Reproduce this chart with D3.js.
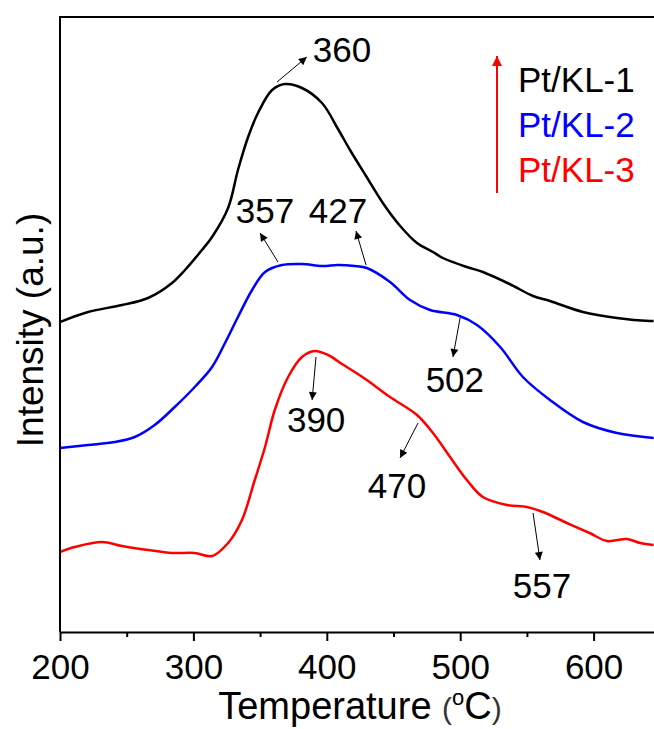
<!DOCTYPE html>
<html>
<head>
<meta charset="utf-8">
<script src="https://cdn.jsdelivr.net/npm/d3@7"></script>
<style>
  body { margin: 0; background: #fff; }
  text { font-family: "Liberation Sans", Arial, sans-serif; }
</style>
</head>
<body>
<div id="chart"></div>
<script>
// temperature (°C) and intensity (a.u.)
const temp1 = [200, 221, 246.5, 266, 284, 293.7, 306.4, 314, 326, 333.4, 341, 348.4, 359, 368.7, 381.4, 396.4, 408.4, 417.4, 429.4, 442, 455, 467.6, 479.6, 487, 505, 517, 537, 554.6, 567.3, 592, 617.5, 642, 645];
const ptkl1 = [310, 320, 327, 334, 349, 362, 382, 395, 424, 462, 495, 519, 542, 548, 544, 529, 503, 482, 456, 429, 406, 389, 380, 374, 365, 360, 348, 336, 331, 320, 314, 311, 311];

const temp2 = [200, 221, 241, 256, 271, 286, 301, 314, 323.7, 333.4, 344, 353.7, 366.4, 381.4, 396.4, 408.4, 421, 430, 447.4, 462.4, 477.4, 497.6, 512.6, 530, 547, 567.3, 592, 617.5, 645];
const ptkl2 = [184, 187, 190, 195, 207, 225, 245, 265, 289, 315, 342, 360, 367, 368, 366, 367, 366, 364, 350, 332, 322, 317, 307, 285, 255, 232, 210, 199, 194];

const temp3 = [200, 211, 231.5, 246.5, 266, 284, 301, 314, 326, 336.4, 346, 353.7, 361, 371, 381.4, 391, 401, 411.4, 421, 430, 447.4, 467.6, 479.6, 492.4, 505, 517, 535, 550, 562, 580, 597, 610, 625, 635, 645];
const ptkl3 = [80, 85, 90, 86, 82, 79, 79, 76, 89, 112, 152, 185, 222, 255, 275, 281, 277, 268, 260, 252, 235, 217, 199, 175, 152, 135, 127, 125, 120, 109, 99, 91, 93, 89, 87];

const seriesNames = ["Pt/KL-1", "Pt/KL-2", "Pt/KL-3"];
const seriesColors = ["#000000", "#0000ff", "#ff0000"];

// peak labels: text, arrow from (t0,v0) to (t1,v1), text anchor at (tt,vt)
const peakLabels = ["360", "357", "427", "502", "390", "470", "557"];
const arrowFrom = [[362.7, 550], [363.4, 370], [429.4, 367], [499.9, 314], [391.9, 275], [468.4, 209], [554.6, 119]];
const arrowTo = [[385, 575], [350, 399], [421.9, 401], [494.6, 275], [389, 232], [454.9, 174], [559.8, 72]];
const labelAt = [[411.4, 570], [353.7, 409], [408.4, 409], [496, 240], [392, 200], [452.6, 134], [561.3, 34]];

const xMajor = [200, 300, 400, 500, 600];
const xMinor = [250, 350, 450, 550];

const width = 654, height = 729;
const margin = { top: 17, left: 60, bottom: 97 };

const svg = d3.select("#chart").append("svg")
    .attr("width", width).attr("height", height);

const x = d3.scaleLinear().domain([200, 650]).range([margin.left, margin.left + 450 * 1.334]);
const y = d3.scaleLinear().domain([0, 615]).range([height - margin.bottom, margin.top]);

const defs = svg.append("defs");
defs.append("clipPath").attr("id", "clip")
    .append("rect").attr("x", margin.left).attr("y", margin.top)
    .attr("width", width - margin.left).attr("height", height - margin.bottom - margin.top);
defs.append("marker").attr("id", "head")
    .attr("viewBox", "0 0 10 10").attr("refX", 10).attr("refY", 5)
    .attr("markerWidth", 11).attr("markerHeight", 8).attr("markerUnits", "userSpaceOnUse")
    .attr("orient", "auto")
    .append("path").attr("d", "M0,0L10,5L0,10Z").attr("fill", "#000");
defs.append("marker").attr("id", "redhead")
    .attr("viewBox", "0 0 10 10").attr("refX", 10).attr("refY", 5)
    .attr("markerWidth", 14).attr("markerHeight", 10).attr("markerUnits", "userSpaceOnUse")
    .attr("orient", "auto")
    .append("path").attr("d", "M0,0L10,5L0,10Z").attr("fill", "#ff0000");

// curves
const line = d3.line().x(d => x(d[0])).y(d => y(d[1])).curve(d3.curveCatmullRom);
const allSeries = [d3.zip(temp1, ptkl1), d3.zip(temp2, ptkl2), d3.zip(temp3, ptkl3)];
svg.append("g").attr("clip-path", "url(#clip)")
    .selectAll("path").data(allSeries).join("path")
    .attr("d", line)
    .attr("fill", "none")
    .attr("stroke", (d, i) => seriesColors[i])
    .attr("stroke-width", 2.5);

// axes
const xAxis = svg.append("g").attr("transform", `translate(0,${y(0)})`)
    .call(d3.axisBottom(x).tickValues(xMajor).tickSize(9).tickPadding(13).tickSizeOuter(0));
xAxis.select(".domain").attr("stroke-width", 2);
xAxis.selectAll(".tick line").attr("stroke-width", 2);
xAxis.selectAll("text").attr("font-size", 35).attr("fill", "#000")
    .style("font-family", "Liberation Sans, Arial, sans-serif");

svg.append("g").attr("transform", `translate(0,${y(0)})`)
    .call(d3.axisBottom(x).tickValues(xMinor).tickSize(5).tickFormat(""))
    .call(g => g.select(".domain").remove())
    .selectAll(".tick line").attr("stroke-width", 2);

// frame: left and top
svg.append("path")
    .attr("d", `M${x(200)},${y(0)}V${y(615)}H${width}`)
    .attr("fill", "none").attr("stroke", "#000").attr("stroke-width", 2);

// axis titles
const xt = svg.append("text").attr("x", 360).attr("y", 719)
    .attr("text-anchor", "middle").attr("font-size", 38);
xt.append("tspan").text("Temperature ");
xt.append("tspan").attr("font-size", 30).attr("fill", "#333").text("(");
xt.append("tspan").attr("font-size", 22).attr("dy", -14).text("o");
xt.append("tspan").attr("dy", 14).text("C");
xt.append("tspan").attr("font-size", 30).attr("fill", "#333").text(")");

svg.append("text")
    .attr("transform", "translate(43,330) rotate(-90)")
    .attr("text-anchor", "middle").attr("font-size", 37)
    .text("Intensity (a.u.)");

// peak annotations
const ann = svg.append("g");
ann.selectAll("line").data(peakLabels).join("line")
    .attr("x1", (d, i) => x(arrowFrom[i][0])).attr("y1", (d, i) => y(arrowFrom[i][1]))
    .attr("x2", (d, i) => x(arrowTo[i][0])).attr("y2", (d, i) => y(arrowTo[i][1]))
    .attr("stroke", "#000").attr("stroke-width", 1)
    .attr("marker-end", "url(#head)");
ann.selectAll("text").data(peakLabels).join("text")
    .attr("x", (d, i) => x(labelAt[i][0])).attr("y", (d, i) => y(labelAt[i][1]))
    .attr("text-anchor", "middle").attr("font-size", 35)
    .text(d => d);

// legend with red arrow
const legend = svg.append("g");
legend.append("line")
    .attr("x1", 497).attr("y1", 193).attr("x2", 497).attr("y2", 56)
    .attr("stroke", "#ff0000").attr("stroke-width", 2)
    .attr("marker-end", "url(#redhead)");
legend.selectAll("text").data(seriesNames).join("text")
    .attr("x", 518).attr("y", (d, i) => 92 + i * 45)
    .attr("font-size", 35)
    .attr("fill", (d, i) => seriesColors[i])
    .text(d => d);
</script>
</body>
</html>
